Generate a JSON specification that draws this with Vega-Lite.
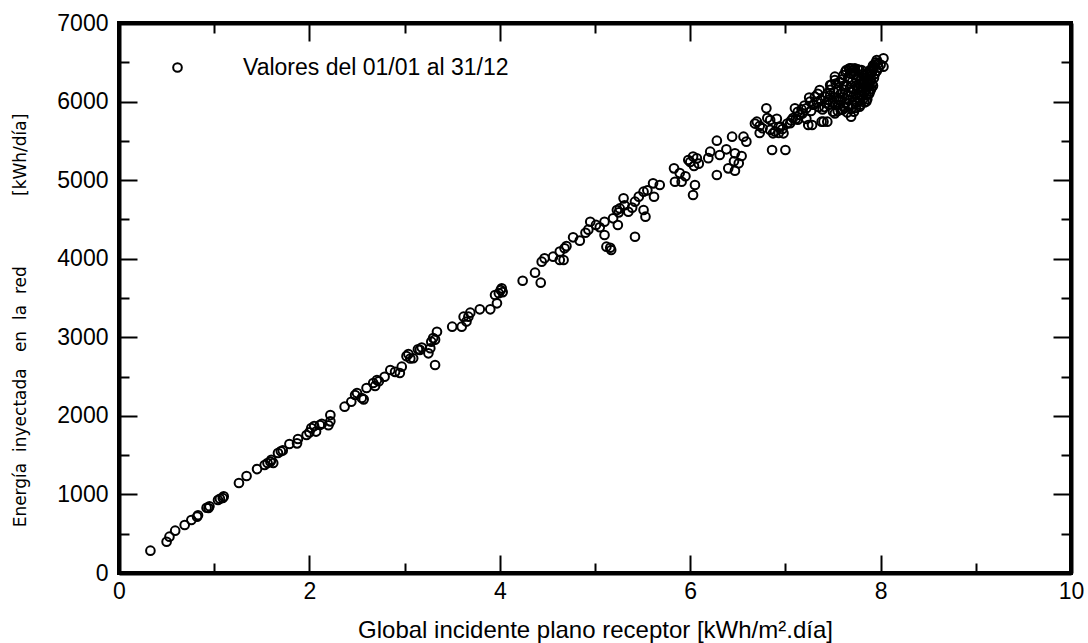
{
  "$schema": "https://vega.github.io/schema/vega-lite/v6.json",
  "width": 952,
  "height": 550,
  "autosize": {"type": "none"},
  "padding": {"left": 119, "top": 23, "right": 17, "bottom": 70},
  "background": "white",
  "config": {
    "view": {"stroke": "black", "strokeWidth": 4},
    "axis": {
      "grid": false,
      "labelColor": "black",
      "labelFont": "Liberation Sans",
      "labelFontSize": 23,
      "labelFlush": false,
      "labelOverlap": false,
      "titleColor": "black",
      "titleFontWeight": "normal"
    }
  },
  "data": {
    "values": [
      {"x":0.33,"y":284},{"x":0.50,"y":398},{"x":0.53,"y":462},{"x":0.59,"y":539},{"x":0.69,"y":611},{"x":0.76,"y":675},{"x":0.82,"y":717},{"x":0.83,"y":735},{"x":0.92,"y":830},{"x":0.94,"y":827},{"x":0.95,"y":850},{"x":1.04,"y":929},{"x":1.06,"y":945},{"x":1.09,"y":954},{"x":1.10,"y":975},
      {"x":1.26,"y":1145},{"x":1.34,"y":1234},{"x":1.45,"y":1323},{"x":1.53,"y":1374},{"x":1.56,"y":1400},{"x":1.59,"y":1417},{"x":1.62,"y":1400},{"x":1.60,"y":1440},{"x":1.67,"y":1527},{"x":1.70,"y":1550},{"x":1.72,"y":1560},{"x":1.79,"y":1642},{"x":1.87,"y":1650},{"x":1.88,"y":1705},{"x":1.97,"y":1756},{"x":2.00,"y":1790},{"x":2.02,"y":1845},{"x":2.05,"y":1870},{"x":2.07,"y":1800},{"x":2.11,"y":1884},{"x":2.13,"y":1900},{"x":2.20,"y":1880},{"x":2.22,"y":1930},{"x":2.22,"y":2010},
      {"x":2.37,"y":2117},{"x":2.44,"y":2180},{"x":2.48,"y":2265},{"x":2.50,"y":2290},{"x":2.55,"y":2227},{"x":2.57,"y":2210},{"x":2.60,"y":2354},{"x":2.67,"y":2418},{"x":2.71,"y":2456},{"x":2.69,"y":2380},{"x":2.73,"y":2440},{"x":2.79,"y":2498},{"x":2.85,"y":2584},{"x":2.90,"y":2560},{"x":2.95,"y":2545},{"x":2.97,"y":2626},
      {"x":3.04,"y":2787},{"x":3.06,"y":2730},{"x":3.09,"y":2733},{"x":3.02,"y":2760},{"x":3.14,"y":2847},{"x":3.16,"y":2840},{"x":3.18,"y":2870},{"x":3.25,"y":2796},{"x":3.27,"y":2860},{"x":3.28,"y":2944},{"x":3.30,"y":2990},{"x":3.32,"y":2970},{"x":3.34,"y":3071},{"x":3.32,"y":2647},
      {"x":3.50,"y":3135},{"x":3.60,"y":3135},{"x":3.62,"y":3262},{"x":3.67,"y":3262},{"x":3.69,"y":3313},{"x":3.65,"y":3200},{"x":3.79,"y":3356},{"x":3.90,"y":3356},{"x":3.97,"y":3432},{"x":3.95,"y":3538},{"x":3.99,"y":3560},{"x":4.02,"y":3623},{"x":4.03,"y":3575},{"x":4.01,"y":3602},
      {"x":4.24,"y":3720},{"x":4.37,"y":3822},{"x":4.43,"y":3695},{"x":4.44,"y":3962},{"x":4.47,"y":4005},{"x":4.56,"y":4026},{"x":4.63,"y":3984},{"x":4.67,"y":3984},{"x":4.63,"y":4090},{"x":4.68,"y":4132},{"x":4.70,"y":4160},{"x":4.77,"y":4272},{"x":4.84,"y":4230},{"x":4.90,"y":4331},{"x":4.93,"y":4370},{"x":4.95,"y":4471},
      {"x":5.01,"y":4430},{"x":5.05,"y":4400},{"x":5.10,"y":4471},{"x":5.10,"y":4302},{"x":5.12,"y":4153},{"x":5.16,"y":4140},{"x":5.17,"y":4111},{"x":5.19,"y":4514},{"x":5.23,"y":4620},{"x":5.25,"y":4590},{"x":5.24,"y":4429},{"x":5.26,"y":4640},{"x":5.30,"y":4768},{"x":5.31,"y":4680},{"x":5.35,"y":4598},{"x":5.39,"y":4650},{"x":5.42,"y":4726},{"x":5.42,"y":4280},{"x":5.46,"y":4790},{"x":5.51,"y":4620},{"x":5.53,"y":4535},{"x":5.51,"y":4853},{"x":5.55,"y":4870},{"x":5.61,"y":4959},{"x":5.68,"y":4938},{"x":5.62,"y":4789},
      {"x":5.84,"y":4980},{"x":5.83,"y":5150},{"x":5.89,"y":5090},{"x":5.91,"y":4980},{"x":5.95,"y":5050},{"x":5.98,"y":5256},{"x":6.03,"y":5300},{"x":6.05,"y":4938},{"x":6.03,"y":4811},
      {"x":6.28,"y":5065},{"x":6.28,"y":5502},{"x":6.44,"y":5553},{"x":6.56,"y":5553},{"x":6.40,"y":5150},{"x":6.47,"y":5120},{"x":6.51,"y":5214},{"x":6.54,"y":5307},{"x":6.46,"y":5240},{"x":6.47,"y":5341},{"x":6.38,"y":5392},{"x":6.31,"y":5320},{"x":6.21,"y":5362},{"x":6.19,"y":5280},{"x":6.07,"y":5277},{"x":6.09,"y":5210},{"x":6.04,"y":5180},{"x":6.00,"y":5230},{"x":6.59,"y":5490},
      {"x":6.80,"y":5914},{"x":6.81,"y":5790},{"x":6.70,"y":5744},{"x":6.73,"y":5690},{"x":6.68,"y":5720},{"x":6.86,"y":5384},{"x":7.00,"y":5384},{"x":6.87,"y":5596},{"x":6.93,"y":5680},{"x":6.91,"y":5780},{"x":6.98,"y":5596},{"x":7.10,"y":5914},{"x":7.08,"y":5790},{"x":7.15,"y":5830},{"x":7.24,"y":5702},{"x":7.28,"y":5702},{"x":7.40,"y":5744},{"x":7.44,"y":5744},{"x":7.52,"y":5850},{"x":7.69,"y":5808},{"x":7.22,"y":5914},{"x":7.29,"y":5960},
      {"x":6.84,"y":5765},{"x":6.95,"y":5680},{"x":7.05,"y":5724},{"x":7.13,"y":5770},{"x":7.18,"y":5850},{"x":7.22,"y":5780},{"x":7.26,"y":6000},{"x":7.31,"y":6062},{"x":7.35,"y":5930},{"x":7.38,"y":5744},{"x":7.41,"y":5930},{"x":7.36,"y":6147},{"x":7.47,"y":6211},{"x":7.52,"y":6274},{"x":7.50,"y":5871},{"x":7.55,"y":5880},{"x":7.61,"y":6338},{"x":7.53,"y":5960},{"x":7.58,"y":6020},
      {"x":8.03,"y":6550},{"x":8.03,"y":6444},{"x":7.96,"y":6529},{"x":7.92,"y":6460},{"x":7.89,"y":6400},{"x":7.48,"y":6210},{"x":7.52,"y":6317},{"x":7.63,"y":6381},{"x":7.68,"y":6423},{"x":7.73,"y":6423},{"x":7.78,"y":6400},{"x":7.82,"y":6330},{"x":7.89,"y":6250},{"x":7.90,"y":6290},{"x":7.92,"y":6200},{"x":7.89,"y":6130},{"x":7.85,"y":6000},{"x":7.78,"y":5935},{"x":7.69,"y":5910},{"x":7.60,"y":5895},{"x":7.56,"y":5960},{"x":7.43,"y":5980},{"x":7.42,"y":6060},{"x":7.47,"y":6080},
      {"x":7.58,"y":6100},{"x":7.60,"y":6050},{"x":7.62,"y":6150},{"x":7.63,"y":5980},{"x":7.64,"y":6210},{"x":7.65,"y":6080},{"x":7.66,"y":6300},{"x":7.67,"y":6020},{"x":7.68,"y":6180},{"x":7.69,"y":6120},{"x":7.70,"y":5960},{"x":7.70,"y":6250},{"x":7.71,"y":6060},{"x":7.72,"y":6340},{"x":7.72,"y":6150},{"x":7.73,"y":6000},{"x":7.74,"y":6200},{"x":7.74,"y":6100},{"x":7.75,"y":6280},{"x":7.75,"y":5990},{"x":7.76,"y":6050},{"x":7.76,"y":6160},{"x":7.77,"y":6230},{"x":7.77,"y":6320},{"x":7.78,"y":6090},{"x":7.78,"y":6010},{"x":7.79,"y":6180},{"x":7.79,"y":6270},{"x":7.80,"y":6130},{"x":7.80,"y":6060},{"x":7.81,"y":6220},{"x":7.81,"y":6350},{"x":7.82,"y":6170},{"x":7.82,"y":6040},{"x":7.83,"y":6260},{"x":7.83,"y":6110},{"x":7.84,"y":6200},{"x":7.84,"y":6300},{"x":7.85,"y":6150},{"x":7.85,"y":6080},{"x":7.86,"y":6240},{"x":7.86,"y":6360},{"x":7.87,"y":6190},{"x":7.87,"y":6280},{"x":7.88,"y":6220},{"x":7.88,"y":6320},{"x":7.89,"y":6350},{"x":7.90,"y":6400},{"x":7.91,"y":6380},{"x":7.92,"y":6420},{"x":7.93,"y":6440},{"x":7.94,"y":6470},{"x":7.95,"y":6500},{"x":7.97,"y":6480},{"x":7.98,"y":6430},{"x":8.00,"y":6470},
      {"x":7.55,"y":6150},{"x":7.57,"y":6250},{"x":7.59,"y":6280},{"x":7.61,"y":6200},{"x":7.54,"y":6050},{"x":7.56,"y":6020},{"x":7.62,"y":5920},{"x":7.66,"y":5940},{"x":7.68,"y":6360},{"x":7.71,"y":6390},{"x":7.73,"y":6380},{"x":7.76,"y":6410},{"x":7.80,"y":6400},{"x":7.64,"y":6400},{"x":7.67,"y":6420},{"x":7.70,"y":6420},{"x":7.74,"y":5920},{"x":7.79,"y":5960},{"x":7.83,"y":5990},{"x":7.86,"y":6030},{"x":7.88,"y":6100},{"x":7.90,"y":6160},{"x":7.91,"y":6230},{"x":7.93,"y":6300},{"x":7.94,"y":6350},{"x":7.96,"y":6390},{"x":7.72,"y":5870},{"x":7.65,"y":5860},{"x":7.58,"y":5900},{"x":7.50,"y":5990},{"x":7.46,"y":5960},{"x":7.44,"y":6100},{"x":7.47,"y":6150},{"x":7.51,"y":6120},{"x":7.53,"y":6230},{"x":7.45,"y":6020},{"x":7.39,"y":5900},{"x":7.37,"y":6020},{"x":7.33,"y":5990},{"x":7.34,"y":6100},{"x":7.30,"y":5960},{"x":7.27,"y":5880},{"x":7.25,"y":6050},{"x":7.20,"y":5950},{"x":7.17,"y":5900},{"x":7.13,"y":5870},{"x":7.11,"y":5780},{"x":7.06,"y":5760},{"x":7.02,"y":5720},{"x":6.97,"y":5650},{"x":6.93,"y":5600},{"x":6.89,"y":5620},{"x":6.84,"y":5640},{"x":6.76,"y":5660},{"x":6.73,"y":5600}
    ]
  },
  "layer": [
    {
      "mark": {"type": "point", "shape": "circle", "filled": false, "size": 75, "strokeWidth": 2, "opacity": 1},
      "encoding": {
        "x": {
          "field": "x", "type": "quantitative",
          "scale": {"domain": [0, 10], "nice": false, "zero": false},
          "axis": {
            "orient": "bottom",
            "values": [0,2,4,6,8,10],
            "tickSize": -18,
            "tickColor": "#000000",
            "tickWidth": 2,
            "domainColor": "#000000",
            "domainWidth": 4,
            "labelBaseline": "alphabetic",
            "labelPadding": 43,
            "labelFontSize": 23,
            "title": "Global incidente plano receptor [kWh/m².día]",
            "titleFont": "Liberation Sans",
            "titleFontSize": 24,
            "titleBaseline": "alphabetic",
            "titleY": 64
          }
        },
        "y": {
          "field": "y", "type": "quantitative",
          "scale": {"domain": [0, 7000], "nice": false, "zero": false},
          "axis": {
            "orient": "left",
            "values": [0,1000,2000,3000,4000,5000,6000,7000],
            "tickSize": -18,
            "tickColor": "#000000",
            "tickWidth": 2,
            "domainColor": "#000000",
            "domainWidth": 4,
            "labelPadding": 29,
            "labelFontSize": 23,
            "format": "d",
            "title": "Energía\u00a0\u00a0inyectada\u00a0\u00a0\u00a0en\u00a0\u00a0la\u00a0\u00a0red\u00a0\u00a0\u00a0\u00a0\u00a0\u00a0\u00a0\u00a0\u00a0\u00a0\u00a0\u00a0\u00a0[kWh/día]",
            "titleFont": "DejaVu Sans",
            "titleFontSize": 17,
            "titleBaseline": "middle",
            "titleX": -99,
            "titleY": 297
          }
        },
        "color": {
          "datum": "Valores del 01/01 al 31/12",
          "type": "nominal",
          "scale": {"range": ["black"]},
          "legend": {
            "orient": "none",
            "legendX": 47,
            "legendY": 33,
            "title": null,
            "padding": 0,
            "labelFont": "Liberation Sans",
            "labelFontSize": 23,
            "labelColor": "black",
            "labelLimit": 0,
            "labelOffset": 54,
            "symbolType": "circle",
            "symbolSize": 75,
            "symbolStrokeWidth": 2,
            "symbolStrokeColor": "black"
          }
        }
      }
    },
    {
      "mark": {"type": "point", "opacity": 0},
      "encoding": {
        "x": {
          "field": "x", "type": "quantitative",
          "axis": {"orient": "top", "values": [0,2,4,6,8,10], "tickSize": -18, "tickColor": "#000000", "tickWidth": 2, "domainColor": "#000000", "domainWidth": 4, "labels": false, "title": null}
        },
        "y": {
          "field": "y", "type": "quantitative",
          "axis": {"orient": "right", "values": [0,1000,2000,3000,4000,5000,6000,7000], "tickSize": -18, "tickColor": "#000000", "tickWidth": 2, "domainColor": "#000000", "domainWidth": 4, "labels": false, "title": null}
        }
      }
    },
    {
      "mark": {"type": "point", "opacity": 0},
      "encoding": {
        "x": {
          "field": "x", "type": "quantitative",
          "axis": {"orient": "bottom", "values": [1,3,5,7,9], "tickSize": -10, "tickColor": "#000000", "tickWidth": 2, "domain": false, "labels": false, "title": null}
        },
        "y": {
          "field": "y", "type": "quantitative",
          "axis": {"orient": "left", "values": [500,1500,2500,3500,4500,5500,6500], "tickSize": -10, "tickColor": "#000000", "tickWidth": 2, "domain": false, "labels": false, "title": null}
        }
      }
    },
    {
      "mark": {"type": "point", "opacity": 0},
      "encoding": {
        "x": {
          "field": "x", "type": "quantitative",
          "axis": {"orient": "top", "values": [1,3,5,7,9], "tickSize": -10, "tickColor": "#000000", "tickWidth": 2, "domain": false, "labels": false, "title": null}
        },
        "y": {
          "field": "y", "type": "quantitative",
          "axis": {"orient": "right", "values": [500,1500,2500,3500,4500,5500,6500], "tickSize": -10, "tickColor": "#000000", "tickWidth": 2, "domain": false, "labels": false, "title": null}
        }
      }
    }
  ],
  "resolve": {"axis": {"x": "independent", "y": "independent"}}
}
